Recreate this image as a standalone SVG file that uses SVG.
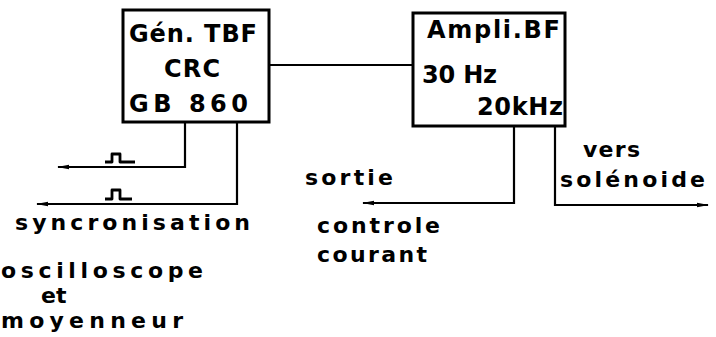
<svg xmlns="http://www.w3.org/2000/svg" width="716" height="337" viewBox="0 0 716 337">
<style>
.box{fill:#fff;stroke:#000;stroke-width:3}
.ln{fill:none;stroke:#000;stroke-width:2.2}
.pl{fill:none;stroke:#000;stroke-width:2.8;stroke-linejoin:round}
text{font-family:"DejaVu Sans","Liberation Sans",sans-serif;font-weight:bold;fill:#000}
.t{font-size:24px}
.s{font-size:22px}
</style>
<defs>
<marker id="ah" markerWidth="12" markerHeight="6" refX="11" refY="3" orient="auto" markerUnits="userSpaceOnUse">
<path d="M0,0.8 L12,3 L0,5.2 Z" fill="#000"/>
</marker>
</defs>
<rect width="716" height="337" fill="#fff"/>
<g id="connectors">
<path class="ln" d="M269,65 H413"/>
<path class="ln" d="M185,122 V167 H58" marker-end="url(#ah)"/>
<path class="ln" d="M237,122 V204 H37" marker-end="url(#ah)"/>
<path class="ln" d="M514,126 V203 H363" marker-end="url(#ah)"/>
<path class="ln" d="M555,126 V205 H708" marker-end="url(#ah)"/>
<path class="pl" d="M105,162 H112 V154 H120 V162 H135"/>
<path class="pl" d="M105,199 H112 V190 H120 V199 H132"/>
</g>
<g id="gen">
<rect class="box" x="123" y="10" width="146" height="112"/>
<text class="t" x="129" y="42" textLength="128" lengthAdjust="spacing">Gén. TBF</text>
<text class="t" x="164" y="77" textLength="56" lengthAdjust="spacing">CRC</text>
<text class="t" x="129" y="112" textLength="119" lengthAdjust="spacing">GB 860</text>
</g>
<g id="ampli">
<rect class="box" x="413" y="13" width="152" height="113"/>
<text class="t" x="427" y="38" textLength="133" lengthAdjust="spacing">Ampli.BF</text>
<text class="t" x="422" y="83" textLength="75" lengthAdjust="spacing">30 Hz</text>
<text class="t" x="477" y="115" textLength="86" lengthAdjust="spacing">20kHz</text>
</g>
<g id="labels">
<text class="s" x="15" y="230" textLength="235" lengthAdjust="spacing">syncronisation</text>
<text class="s" x="1" y="278" textLength="202" lengthAdjust="spacing">oscilloscope</text>
<text class="s" x="41" y="303">et</text>
<text class="s" x="1" y="328" textLength="182" lengthAdjust="spacing">moyenneur</text>
<text class="s" x="305" y="185" textLength="88" lengthAdjust="spacing">sortie</text>
<text class="s" x="317" y="233" textLength="123" lengthAdjust="spacing">controle</text>
<text class="s" x="317" y="262" textLength="110" lengthAdjust="spacing">courant</text>
<text class="s" x="583" y="157" textLength="57" lengthAdjust="spacing">vers</text>
<text class="s" x="560" y="187" textLength="145" lengthAdjust="spacing">solénoide</text>
</g>
</svg>
